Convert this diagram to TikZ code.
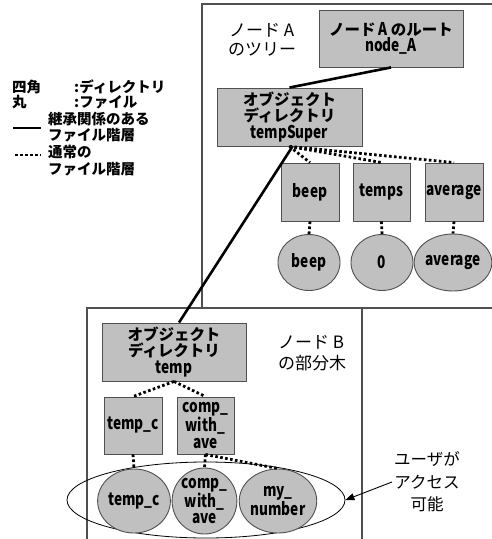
\documentclass[tikz,border=0pt]{standalone}
\usepackage{fontspec}
\setmainfont{Noto Sans CJK JP}
\newfontfamily\latn[FakeStretch=0.78]{Noto Sans CJK JP}
\usetikzlibrary{shapes.geometric,arrows.meta}
\definecolor{boxfill}{HTML}{C0C0C0}
\definecolor{edge}{HTML}{505050}
\newcommand{\lt}[1]{{\latn\bfseries\fontsize{17.5}{16.5}\selectfont #1}}
\tikzset{
  fnt/.style={font=\fontsize{15.5}{16.5}\selectfont\bfseries},
  dirbox/.style={draw=edge, fill=boxfill, line width=0.9pt, rectangle, inner sep=0pt, align=center, fnt},
  filecirc/.style={draw=edge, fill=boxfill, line width=0.9pt, ellipse, inner sep=0pt, align=center, fnt},
  inherit/.style={line width=2.6pt, black},
  plain/.style={line width=2.8pt, black, dash pattern=on 2.6pt off 2.4pt},
  region/.style={draw=edge, line width=1.2pt},
  lbl/.style={font=\fontsize{17}{20}\selectfont, align=left, inner sep=0pt},
  leg/.style={font=\fontsize{14.5}{16}\selectfont\bfseries, inner sep=0pt, anchor=west},
}
\begin{document}
\begin{tikzpicture}[x=1pt,y=-1pt]
\useasboundingbox (0,0) rectangle (491,539);
% regions
\draw[region] (495,4) -- (202,4) -- (202,308) -- (495,308);
\draw[region] (87,545) -- (87,308) -- (362,308) -- (362,545);
% accessible ellipse
\node[draw=black, line width=0.8pt, ellipse, minimum width=278pt, minimum height=76pt, inner sep=0pt] (accEll) at (206,500) {};
% labels
\node[lbl, anchor=west] (lblA1) at (229,30) {ノード A};
\node[lbl, anchor=west] (lblA2) at (228,49) {のツリー};
\node[lbl, anchor=west] (lblB1) at (278,342) {ノード B};
\node[lbl, anchor=west] (lblB2) at (278,363) {の部分木};
\node[lbl, align=center, font=\fontsize{16.5}{22.5}\selectfont] (usr) at (427,482) {ユーザが\\アクセス\\可能};
% directories
\node[dirbox, minimum width=144pt, minimum height=57pt] (rootA) at (391,38.5) {ノード\lt{ A }のルート\\\lt{node\_A}};
\node[dirbox, minimum width=145pt, minimum height=58pt] (tempSuper) at (289.5,117) {オブジェクト\\ディレクトリ\\\lt{tempSuper}};
\node[dirbox, minimum width=58pt, minimum height=58pt] (beepD) at (310,192) {\lt{beep}};
\node[dirbox, minimum width=57pt, minimum height=58pt] (tempsD) at (381.5,192) {\lt{temps}};
\node[dirbox, minimum width=58pt, minimum height=58pt] (avgD) at (454,192) {\lt{average}};
\node[dirbox, minimum width=144pt, minimum height=58pt] (temp) at (174,352) {オブジェクト\\ディレクトリ\\\lt{temp}};
\node[dirbox, minimum width=58pt, minimum height=57pt] (tempcD) at (133,425.5) {\lt{temp\_c}};
\node[dirbox, minimum width=57pt, minimum height=57pt] (compD) at (205.5,425.5) {\lt{comp\_}\\\lt{with\_}\\\lt{ave}};
% files
\node[filecirc, minimum width=62pt, minimum height=56pt] (beepF) at (309,262.5) {\lt{beep}};
\node[filecirc, minimum width=62pt, minimum height=56pt] (tempsF) at (382,262.5) {\lt{0}};
\node[filecirc, minimum width=61pt, minimum height=57pt] (avgF) at (453,262.5) {\lt{average}};
\node[filecirc, minimum width=62pt, minimum height=64pt] (tempcF) at (134,501) {\lt{temp\_c}};
\node[filecirc, minimum width=59pt, minimum height=66pt] (compF) at (204.5,501) {\lt{comp\_}\\\lt{with\_}\\\lt{ave}};
\node[filecirc, minimum width=60pt, minimum height=64pt] (mynumF) at (278,501) {\lt{my\_}\\\lt{number}};
% inheritance connectors
\draw[inherit] (rootA.south) -- (tempSuper.north);
\draw[inherit] ([xshift=3pt]tempSuper.south) -- ([xshift=5pt]temp.north);
% normal connectors
\draw[plain] (tempSuper.south) -- (beepD.north);
\draw[plain] (tempSuper.south) -- (tempsD.north);
\draw[plain] (tempSuper.south) -- (avgD.north);
\draw[plain] (beepD.south) -- (beepF.north);
\draw[plain] (tempsD.south) -- (tempsF.north);
\draw[plain] (avgD.south) -- (avgF.north);
\draw[plain] (temp.south) -- (tempcD.north);
\draw[plain] (temp.south) -- (compD.north);
\draw[plain] (tempcD.south) -- (tempcF.north);
\draw[plain] (compD.south) -- (compF.north);
\draw[plain] (compD.south) -- (mynumF.north);
% access arrow
\draw[line width=0.9pt, -{Triangle[length=9pt,width=7pt]}] ([xshift=-2pt]usr.west) -- (accEll.east);
% legend
\node[leg] (l1a) at (12,87) {四角};
\node[leg] (l1b) at (74,87) {:ディレクトリ};
\node[leg] (l2a) at (12,102) {丸};
\node[leg] (l2b) at (74,102) {:ファイル};
\node[leg] (l3a) at (48,119) {継承関係のある};
\node[leg] (l3b) at (48,135) {ファイル階層};
\node[leg] (l4a) at (48,152) {通常の};
\node[leg] (l4b) at (48,169) {ファイル階層};
\coordinate (s1) at (13,128);
\coordinate (s2) at (41,128);
\coordinate (d1) at (15,155);
\coordinate (d2) at (41,155);
\draw[inherit] (s1) -- (s2);
\draw[plain] (d1) -- (d2);
\end{tikzpicture}
\end{document}
